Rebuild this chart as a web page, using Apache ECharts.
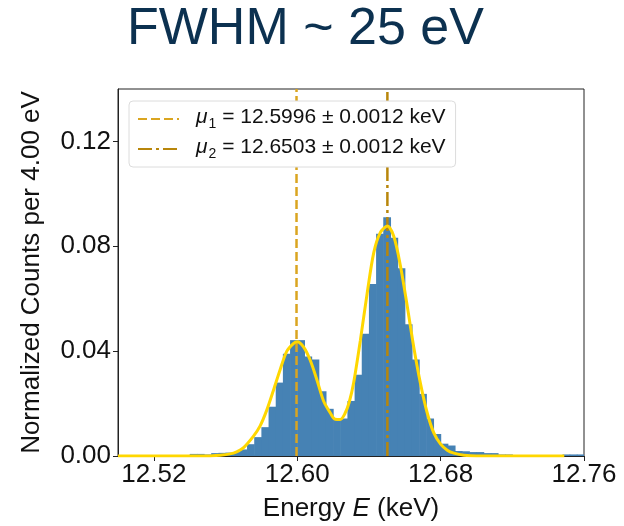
<!DOCTYPE html>
<html>
<head>
<meta charset="utf-8">
<script src="https://cdn.jsdelivr.net/npm/echarts@6/dist/echarts.min.js"></script>
<style>
html,body{margin:0;padding:0;background:#fff;}
#c{width:624px;height:526px;}
</style>
</head>
<body>
<div id="c"></div>
<script>
// ---- data ----
const titleText = 'FWHM ~ 25 eV';
const binStart = 12.50;          // keV, first bin edge
const binWidth = 0.004;          // keV (4.00 eV)
const counts = [
  0, 0, 0, 0, 0.0001, 0, 0.0001, 0.0001, 0.0002, 0.0002,
  0.0008, 0.0008, 0.0006, 0.0011, 0.0012, 0.0013, 0.0015, 0.0025, 0.0045, 0.0072,
  0.011, 0.0188, 0.028, 0.039, 0.0442, 0.0442, 0.038, 0.0368, 0.0247, 0.018,
  0.0143, 0.0143, 0.021, 0.031, 0.0466, 0.0656, 0.0848, 0.0911, 0.0833, 0.0716,
  0.0503, 0.0368, 0.0237, 0.0143, 0.0084, 0.0047, 0.004, 0.0019, 0.0018, 0.0015,
  0.0015, 0.0011, 0.0011, 0.0006, 0.0006, 0.0003, 0.0003, 0.0002, 0.0002, 0.0002,
  0.0001, 0.0001, 0.0006, 0.0006, 0.0006
];
const fitE = [12.500, 12.550, 12.5569, 12.5625, 12.5662, 12.5699, 12.5755, 12.5793, 12.583, 12.5867,
  12.5905, 12.5942, 12.598, 12.600, 12.6035, 12.6072, 12.611, 12.6147, 12.6184, 12.6212,
  12.624, 12.6265, 12.629, 12.6315, 12.6352, 12.639, 12.6427, 12.6464, 12.6503, 12.6539,
  12.6576, 12.6613, 12.665, 12.6688, 12.6725, 12.6762, 12.680, 12.6837, 12.6874, 12.693,
  12.700, 12.749];
const fitY = [0, 0, 0.0003, 0.0008, 0.0016, 0.0031, 0.0075, 0.0115, 0.0175, 0.025,
  0.033, 0.040, 0.0430, 0.0436, 0.0416, 0.0366, 0.029, 0.021, 0.0165, 0.014,
  0.0139, 0.016, 0.0205, 0.028, 0.044, 0.062, 0.0776, 0.0853, 0.0877, 0.0837,
  0.0725, 0.0575, 0.0416, 0.0275, 0.0165, 0.0088, 0.0045, 0.0022, 0.0011, 0.0003,
  0, 0];
const mu1 = 12.5996, mu2 = 12.6503;
const legendTexts = ['12.5996 ± 0.0012 keV', '12.6503 ± 0.0012 keV'];
const xTicks = [12.52, 12.60, 12.68, 12.76];
const yTicks = [0.00, 0.04, 0.08, 0.12];
const xRange = [12.50, 12.76];
const yRange = [0, 0.14];

// ---- build ----
const histData = counts.map((c, i) => [binStart + i * binWidth, binStart + (i + 1) * binWidth, c]);
const fitData = fitE.map((e, i) => [e, fitY[i]]);
const FONT = "'Liberation Sans', Arial, sans-serif";

const chart = echarts.init(document.getElementById('c'), null, {renderer: 'canvas'});
chart.setOption({
  animation: false,
  backgroundColor: '#fff',
  title: {
    text: titleText, left: 122, top: -1,
    textStyle: {fontFamily: FONT, fontSize: 52, fontWeight: 'normal', color: '#0C3150'}
  },
  grid: {left: 118, right: 40, top: 89, bottom: 70, show: true, borderColor: '#222', borderWidth: 1,
         containLabel: false, outerBoundsMode: 'none'},
  legend: {
    orient: 'vertical', left: 129, top: 101,
    data: ['mu1', 'mu2'],
    itemWidth: 41, itemHeight: 14, itemGap: 6,
    padding: [6, 10, 6, 8],
    backgroundColor: '#fff', borderColor: '#dcdcdc', borderWidth: 1, borderRadius: 4,
    itemStyle: {opacity: 0},
    formatter: function (name) {
      const k = name === 'mu1' ? 0 : 1;
      return '{mu|μ}{sub|' + (k + 1) + '}{t| = ' + legendTexts[k] + '}';
    },
    textStyle: {
      fontFamily: FONT, fontSize: 21, color: '#111', padding: [0, 0, 0, 12],
      rich: {
        mu: {fontFamily: FONT, fontSize: 21, fontStyle: 'italic', color: '#111', verticalAlign: 'bottom', padding: [0, 0, 3, 0]},
        sub: {fontFamily: FONT, fontSize: 14, color: '#111', verticalAlign: 'bottom', padding: [0, 0, 0, 1]},
        t: {fontFamily: FONT, fontSize: 21, color: '#111', verticalAlign: 'bottom', padding: [0, 0, 3, 0]}
      }
    }
  },
  xAxis: {
    type: 'value', min: xRange[0], max: xRange[1],
    name: 'Energy {i|E} (keV)', nameLocation: 'middle', nameGap: 40,
    nameTextStyle: {fontFamily: FONT, fontSize: 26, color: '#111',
      rich: {i: {fontFamily: FONT, fontSize: 26, fontStyle: 'italic', color: '#111'}}},
    axisLine: {show: true, onZero: false, lineStyle: {color: '#222', width: 1}},
    axisTick: {show: true, length: 5, inside: false, customValues: xTicks, lineStyle: {color: '#222'}},
    axisLabel: {show: true, margin: 6, customValues: xTicks, fontFamily: FONT, fontSize: 26, color: '#111',
      formatter: v => v.toFixed(2)},
    splitLine: {show: false}
  },
  yAxis: {
    type: 'value', min: yRange[0], max: yRange[1],
    name: 'Normalized Counts per 4.00 eV', nameLocation: 'middle', nameGap: 73,
    nameTextStyle: {fontFamily: FONT, fontSize: 26, color: '#111'},
    axisLine: {show: true, onZero: false, lineStyle: {color: '#222', width: 1}},
    axisTick: {show: true, length: 5, inside: false, customValues: yTicks, lineStyle: {color: '#222'}},
    axisLabel: {show: true, margin: 7, customValues: yTicks, fontFamily: FONT, fontSize: 26, color: '#111',
      formatter: v => v.toFixed(2)},
    splitLine: {show: false}
  },
  series: [
    {
      type: 'custom', name: 'hist', z: 1, clip: true,
      data: histData,
      encode: {x: [0, 1], y: 2},
      renderItem: function (params, api) {
        const p0 = api.coord([api.value(0), api.value(2)]);
        const p1 = api.coord([api.value(1), 0]);
        return {type: 'rect',
          shape: {x: p0[0], y: p0[1], width: p1[0] - p0[0] + 0.6, height: p1[1] - p0[1]},
          style: {fill: '#4682B4'}};
      }
    },
    {
      type: 'line', name: 'mu1', z: 3, symbol: 'none', showSymbol: false,
      data: [[mu1, yRange[0]], [mu1, yRange[1]]],
      lineStyle: {color: '#DAA520', width: 2.5, type: [9, 4]},
      itemStyle: {color: '#DAA520'}
    },
    {
      type: 'line', name: 'mu2', z: 3, symbol: 'none', showSymbol: false,
      data: [[mu2, yRange[0]], [mu2, yRange[1]]],
      lineStyle: {color: '#B8860B', width: 2.5, type: [14, 4, 3, 4]},
      itemStyle: {color: '#B8860B'}
    },
    {
      type: 'line', name: 'fit', z: 4, symbol: 'none', showSymbol: false, smooth: 0.3,
      data: fitData,
      lineStyle: {color: '#FFD700', width: 3}
    }
  ]
});
</script>
</body>
</html>
